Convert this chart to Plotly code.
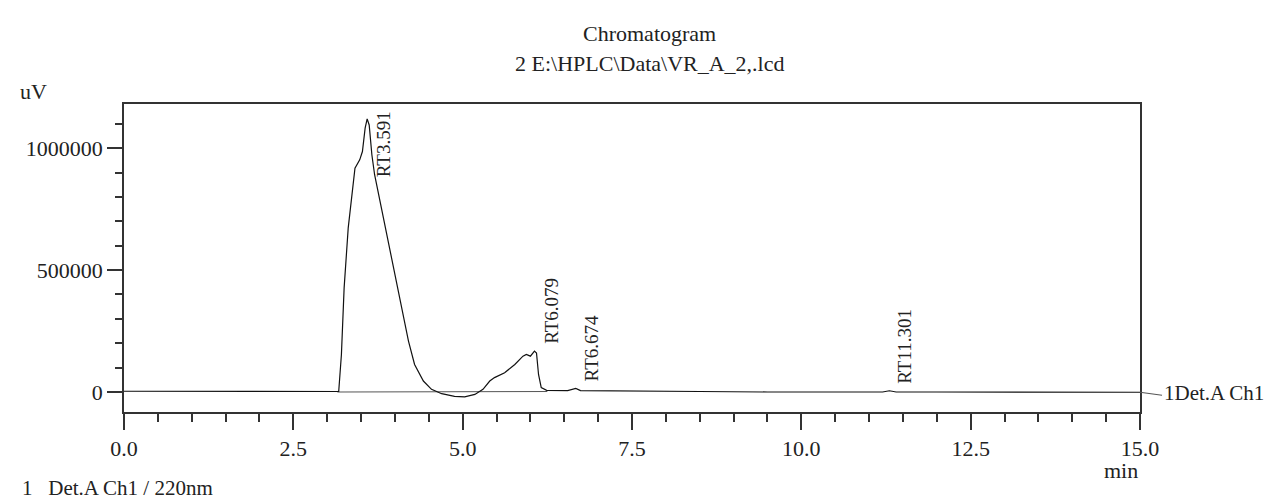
import plotly.graph_objects as go

# ---------------- data ----------------
time_min = [0.0, 1.0, 2.0, 2.8, 3.1, 3.17, 3.21, 3.25, 3.31, 3.37, 3.41, 3.48, 3.52, 3.56, 3.59,
            3.62, 3.66, 3.70, 3.78, 3.88, 3.97, 4.04, 4.12, 4.20, 4.29, 4.42, 4.54, 4.69,
            4.88, 5.03, 5.18, 5.30, 5.40, 5.47, 5.62, 5.77, 5.89, 5.94, 6.00, 6.06, 6.09,
            6.12, 6.16, 6.24, 6.55, 6.62, 6.67, 6.74, 7.0, 7.5, 8.0, 8.5, 9.5, 10.5,
            11.2, 11.3, 11.4, 12.0, 13.0, 14.0, 15.0]
signal_uv = [3000, 2500, 2000, 1000, 0, 2000, 154000, 427000, 672000, 836000, 918000, 952000,
             986000, 1082000, 1120000, 1095000, 972000, 891000, 782000, 645000, 509000,
             427000, 304000, 209000, 113000, 45000, 11000, -7000, -18000, -20000, -10000,
             11000, 45000, 59000, 79000, 113000, 147000, 154000, 147000, 168000, 160000,
             72000, 18000, 7000, 6000, 12000, 15000, 6000, 5000, 4000, 3000, 2000, 0,
             -500, 0, 5000, 0, 0, -500, -1000, -1000]

baseline_t = [3.15, 6.25]
baseline_uv = [0, 2000]

peak_rt = [3.591, 6.079, 6.674, 11.301]
peak_height = [1120000, 168000, 15000, 5000]
peak_labels = ["RT3.591", "RT6.079", "RT6.674", "RT11.301"]

title_lines = ["Chromatogram", "2 E:\\HPLC\\Data\\VR_A_2,.lcd"]
y_ticks = [0, 500000, 1000000]
x_ticks = [0.0, 2.5, 5.0, 7.5, 10.0, 12.5, 15.0]

# ---------------- figure ----------------
FONT = "Liberation Serif"
W, H = 1272, 501
ML, MR, MT, MB = 116, 140, 96, 97
Y_MIN, Y_MAX = -82000, 1181000

fig = go.Figure()
fig.add_trace(go.Scatter(x=baseline_t, y=baseline_uv, mode="lines",
                         line=dict(color="#555555", width=1), hoverinfo="skip"))
fig.add_trace(go.Scatter(x=time_min, y=signal_uv, mode="lines",
                         line=dict(color="#111111", width=1.2)))

plot_h = H - MT - MB
plot_w = W - ML - MR
px_per_uv = plot_h / (Y_MAX - Y_MIN)
label_len_px = 72
annotations = []
for rt, h, lab in zip(peak_rt, peak_height, peak_labels):
    apex_px_from_top = (Y_MAX - h) * px_per_uv
    if apex_px_from_top - label_len_px < 6:
        annotations.append(dict(x=rt, y=Y_MAX, xref="x", yref="y", text=lab, textangle=-90,
                                showarrow=False, xanchor="center", yanchor="top",
                                xshift=16, yshift=-5,
                                font=dict(family=FONT, size=19, color="#222")))
    else:
        annotations.append(dict(x=rt, y=h, xref="x", yref="y", text=lab, textangle=-90,
                                showarrow=False, xanchor="center", yanchor="bottom",
                                xshift=15, yshift=5,
                                font=dict(family=FONT, size=19, color="#222")))

title_xshift = (W / 2 - (ML + plot_w / 2)) + 5
annotations += [
    dict(x=0.5, y=1, xref="paper", yref="paper", yshift=MT - 25, text=title_lines[0],
         showarrow=False, xanchor="center", yanchor="middle", xshift=title_xshift,
         font=dict(family=FONT, size=22, color="#222")),
    dict(x=0.5, y=1, xref="paper", yref="paper", yshift=MT - 55, text=title_lines[1],
         showarrow=False, xanchor="center", yanchor="middle", xshift=title_xshift,
         font=dict(family=FONT, size=22, color="#222")),
    dict(x=0, y=1, xref="paper", yref="paper", xshift=-(ML - 10), yshift=MT - 83, text="uV",
         showarrow=False, xanchor="left", yanchor="middle",
         font=dict(family=FONT, size=22, color="#222")),
    dict(x=1, y=0, xref="paper", yref="paper", yshift=-(462 - (H - MB)), text="min",
         showarrow=False, xanchor="right", yanchor="middle",
         font=dict(family=FONT, size=22, color="#222")),
    dict(x=0, y=0, xref="paper", yref="paper", xshift=-(ML - 12), yshift=-(480 - (H - MB)),
         text="1   Det.A Ch1 / 220nm",
         showarrow=False, xanchor="left", yanchor="middle",
         font=dict(family=FONT, size=21, color="#222")),
]

# detector label at right end of trace
end_val = signal_uv[-1]
end_paper_y = (end_val - Y_MIN) / (Y_MAX - Y_MIN)
annotations.append(dict(x=1, y=end_paper_y, xref="paper", yref="paper", xshift=22, yshift=-1,
                        text="1Det.A Ch1", showarrow=False, xanchor="left", yanchor="middle",
                        font=dict(family=FONT, size=21, color="#222")))
shapes = [dict(type="line", xref="paper", yref="paper", x0=1, x1=1 + 22 / plot_w,
               y0=end_paper_y, y1=end_paper_y - 3 / plot_h,
               line=dict(color="#555555", width=1.2))]

axis_common = dict(showline=True, linecolor="#333333", linewidth=1.5, mirror=True,
                   showgrid=False, zeroline=False, ticks="outside", tickcolor="#333333",
                   tickwidth=1.5, tickfont=dict(family=FONT, size=22, color="#222"))

fig.update_layout(
    width=W, height=H, margin=dict(l=ML, r=MR, t=MT, b=MB),
    paper_bgcolor="white", plot_bgcolor="white", showlegend=False,
    annotations=annotations, shapes=shapes,
    xaxis=dict(range=[0, 15], tickvals=x_ticks, tickformat=".1f", ticklen=16,
               minor=dict(dtick=0.5, ticklen=8, ticks="outside", tickcolor="#333333", tickwidth=1.5),
               **axis_common),
    yaxis=dict(range=[Y_MIN, Y_MAX], tickvals=y_ticks, tickformat="d", ticklen=15,
               minor=dict(dtick=100000, ticklen=7, ticks="outside", tickcolor="#333333", tickwidth=1.5),
               **axis_common),
)

fig.write_html("out.html")
